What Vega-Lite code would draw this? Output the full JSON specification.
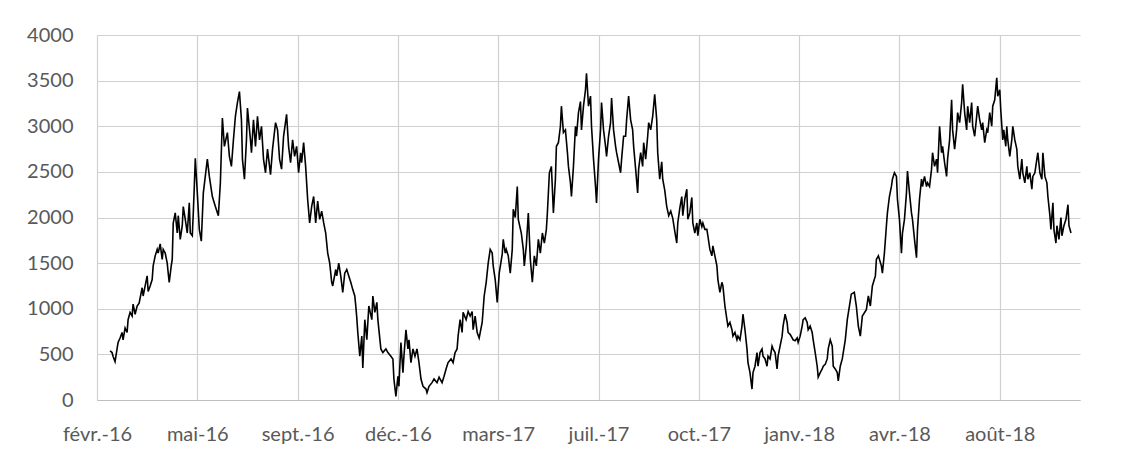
{
  "$schema": "https://vega.github.io/schema/vega-lite/v6.json",
  "width": 983,
  "height": 365,
  "autosize": {"type": "none"},
  "padding": {"left": 97, "top": 35, "right": 57, "bottom": 59},
  "background": "white",
  "data": {
    "format": {"parse": {"d": "date:'%Y-%j'"}},
    "values": [
      {"d":"2016-062","v":540},{"d":"2016-064","v":520},{"d":"2016-065","v":480},{"d":"2016-067","v":420},{"d":"2016-069","v":560},{"d":"2016-070","v":630},{"d":"2016-072","v":680},{"d":"2016-074","v":740},{"d":"2016-075","v":660},{"d":"2016-077","v":790},{"d":"2016-079","v":740},{"d":"2016-080","v":880},{"d":"2016-082","v":960},{"d":"2016-084","v":920},{"d":"2016-085","v":1050},{"d":"2016-087","v":940},{"d":"2016-089","v":1030},{"d":"2016-091","v":1060},{"d":"2016-094","v":1230},{"d":"2016-095","v":1140},{"d":"2016-097","v":1250},{"d":"2016-099","v":1360},{"d":"2016-100","v":1190},{"d":"2016-102","v":1250},{"d":"2016-104","v":1320},{"d":"2016-105","v":1470},{"d":"2016-107","v":1580},{"d":"2016-109","v":1650},{"d":"2016-110","v":1610},{"d":"2016-112","v":1710},{"d":"2016-114","v":1540},{"d":"2016-115","v":1650},{"d":"2016-117","v":1610},{"d":"2016-119","v":1500},{"d":"2016-120","v":1390},{"d":"2016-121","v":1290},{"d":"2016-123","v":1470},{"d":"2016-124","v":1540},{"d":"2016-125","v":1940},{"d":"2016-127","v":2050},{"d":"2016-129","v":1830},{"d":"2016-130","v":2020},{"d":"2016-132","v":1760},{"d":"2016-134","v":1910},{"d":"2016-135","v":2120},{"d":"2016-137","v":1980},{"d":"2016-139","v":1830},{"d":"2016-141","v":2160},{"d":"2016-142","v":1830},{"d":"2016-144","v":1800},{"d":"2016-145","v":2050},{"d":"2016-146","v":2340},{"d":"2016-147","v":2650},{"d":"2016-149","v":2270},{"d":"2016-151","v":1870},{"d":"2016-153","v":1740},{"d":"2016-155","v":2270},{"d":"2016-159","v":2640},{"d":"2016-161","v":2450},{"d":"2016-164","v":2230},{"d":"2016-167","v":2120},{"d":"2016-170","v":2020},{"d":"2016-172","v":2380},{"d":"2016-174","v":3090},{"d":"2016-176","v":2780},{"d":"2016-179","v":2930},{"d":"2016-181","v":2670},{"d":"2016-183","v":2560},{"d":"2016-185","v":2850},{"d":"2016-187","v":3110},{"d":"2016-189","v":3260},{"d":"2016-191","v":3380},{"d":"2016-193","v":3070},{"d":"2016-194","v":2640},{"d":"2016-196","v":2420},{"d":"2016-198","v":2850},{"d":"2016-199","v":3200},{"d":"2016-202","v":2850},{"d":"2016-203","v":2710},{"d":"2016-205","v":3070},{"d":"2016-207","v":2780},{"d":"2016-209","v":3110},{"d":"2016-211","v":2850},{"d":"2016-213","v":3000},{"d":"2016-215","v":2640},{"d":"2016-217","v":2490},{"d":"2016-219","v":2750},{"d":"2016-222","v":2470},{"d":"2016-224","v":2750},{"d":"2016-227","v":3040},{"d":"2016-229","v":2960},{"d":"2016-231","v":2640},{"d":"2016-233","v":2530},{"d":"2016-235","v":2890},{"d":"2016-238","v":3130},{"d":"2016-240","v":2780},{"d":"2016-242","v":2600},{"d":"2016-244","v":2850},{"d":"2016-246","v":2670},{"d":"2016-248","v":2780},{"d":"2016-250","v":2490},{"d":"2016-252","v":2710},{"d":"2016-253","v":2600},{"d":"2016-255","v":2820},{"d":"2016-257","v":2560},{"d":"2016-259","v":2200},{"d":"2016-261","v":1940},{"d":"2016-263","v":2120},{"d":"2016-265","v":2230},{"d":"2016-267","v":1940},{"d":"2016-269","v":2180},{"d":"2016-271","v":1980},{"d":"2016-273","v":2070},{"d":"2016-275","v":1940},{"d":"2016-277","v":1830},{"d":"2016-279","v":1610},{"d":"2016-281","v":1500},{"d":"2016-283","v":1290},{"d":"2016-284","v":1250},{"d":"2016-287","v":1430},{"d":"2016-288","v":1360},{"d":"2016-290","v":1500},{"d":"2016-292","v":1360},{"d":"2016-294","v":1180},{"d":"2016-296","v":1390},{"d":"2016-298","v":1430},{"d":"2016-300","v":1360},{"d":"2016-302","v":1290},{"d":"2016-304","v":1210},{"d":"2016-306","v":1140},{"d":"2016-307","v":1030},{"d":"2016-308","v":900},{"d":"2016-309","v":740},{"d":"2016-311","v":480},{"d":"2016-313","v":700},{"d":"2016-314","v":350},{"d":"2016-316","v":880},{"d":"2016-318","v":660},{"d":"2016-320","v":1030},{"d":"2016-323","v":880},{"d":"2016-324","v":1140},{"d":"2016-326","v":960},{"d":"2016-328","v":1070},{"d":"2016-329","v":880},{"d":"2016-332","v":560},{"d":"2016-334","v":520},{"d":"2016-337","v":560},{"d":"2016-339","v":520},{"d":"2016-342","v":480},{"d":"2016-344","v":450},{"d":"2016-345","v":230},{"d":"2016-347","v":40},{"d":"2016-349","v":260},{"d":"2016-350","v":150},{"d":"2016-352","v":630},{"d":"2016-354","v":300},{"d":"2016-355","v":480},{"d":"2016-357","v":770},{"d":"2016-359","v":560},{"d":"2016-360","v":660},{"d":"2016-362","v":410},{"d":"2016-364","v":560},{"d":"2016-366","v":480},
      {"d":"2017-002","v":560},{"d":"2017-004","v":410},{"d":"2017-006","v":230},{"d":"2017-008","v":150},{"d":"2017-011","v":120},{"d":"2017-012","v":80},{"d":"2017-014","v":150},{"d":"2017-017","v":190},{"d":"2017-019","v":230},{"d":"2017-022","v":190},{"d":"2017-024","v":250},{"d":"2017-027","v":190},{"d":"2017-029","v":260},{"d":"2017-031","v":340},{"d":"2017-033","v":410},{"d":"2017-036","v":450},{"d":"2017-038","v":410},{"d":"2017-040","v":520},{"d":"2017-042","v":560},{"d":"2017-043","v":700},{"d":"2017-045","v":880},{"d":"2017-047","v":740},{"d":"2017-048","v":960},{"d":"2017-051","v":880},{"d":"2017-053","v":970},{"d":"2017-055","v":920},{"d":"2017-057","v":970},{"d":"2017-058","v":770},{"d":"2017-060","v":920},{"d":"2017-062","v":740},{"d":"2017-064","v":680},{"d":"2017-067","v":850},{"d":"2017-069","v":1140},{"d":"2017-071","v":1290},{"d":"2017-073","v":1500},{"d":"2017-075","v":1650},{"d":"2017-077","v":1610},{"d":"2017-078","v":1470},{"d":"2017-080","v":1320},{"d":"2017-082","v":1070},{"d":"2017-084","v":1390},{"d":"2017-087","v":1600},{"d":"2017-088","v":1760},{"d":"2017-090","v":1610},{"d":"2017-091","v":1650},{"d":"2017-093","v":1580},{"d":"2017-095","v":1390},{"d":"2017-097","v":1650},{"d":"2017-098","v":2090},{"d":"2017-100","v":2000},{"d":"2017-102","v":2340},{"d":"2017-103","v":1980},{"d":"2017-106","v":1830},{"d":"2017-108","v":1650},{"d":"2017-109","v":1470},{"d":"2017-111","v":1690},{"d":"2017-113","v":2050},{"d":"2017-115","v":1540},{"d":"2017-117","v":1290},{"d":"2017-119","v":1580},{"d":"2017-121","v":1470},{"d":"2017-123","v":1760},{"d":"2017-125","v":1610},{"d":"2017-127","v":1830},{"d":"2017-129","v":1720},{"d":"2017-131","v":1870},{"d":"2017-132","v":2050},{"d":"2017-134","v":2490},{"d":"2017-136","v":2560},{"d":"2017-137","v":2310},{"d":"2017-138","v":2050},{"d":"2017-140","v":2420},{"d":"2017-141","v":2780},{"d":"2017-143","v":2820},{"d":"2017-145","v":3000},{"d":"2017-146","v":3220},{"d":"2017-148","v":2930},{"d":"2017-150","v":2960},{"d":"2017-152","v":2710},{"d":"2017-153","v":2560},{"d":"2017-155","v":2380},{"d":"2017-156","v":2230},{"d":"2017-158","v":2560},{"d":"2017-160","v":3000},{"d":"2017-161","v":2890},{"d":"2017-163","v":3150},{"d":"2017-165","v":3270},{"d":"2017-166","v":2960},{"d":"2017-168","v":3220},{"d":"2017-170","v":3400},{"d":"2017-171","v":3580},{"d":"2017-173","v":3220},{"d":"2017-175","v":3330},{"d":"2017-176","v":3000},{"d":"2017-178","v":2640},{"d":"2017-180","v":2340},{"d":"2017-181","v":2160},{"d":"2017-183","v":2640},{"d":"2017-185","v":2960},{"d":"2017-186","v":3260},{"d":"2017-188","v":2960},{"d":"2017-190","v":2780},{"d":"2017-191","v":2670},{"d":"2017-193","v":2890},{"d":"2017-195","v":3040},{"d":"2017-196","v":3310},{"d":"2017-198","v":2960},{"d":"2017-200","v":2780},{"d":"2017-201","v":2710},{"d":"2017-203","v":2600},{"d":"2017-205","v":2490},{"d":"2017-206","v":2640},{"d":"2017-208","v":2890},{"d":"2017-210","v":2890},{"d":"2017-211","v":3070},{"d":"2017-213","v":3330},{"d":"2017-215","v":3070},{"d":"2017-217","v":2960},{"d":"2017-218","v":2780},{"d":"2017-220","v":2530},{"d":"2017-222","v":2270},{"d":"2017-223","v":2530},{"d":"2017-225","v":2710},{"d":"2017-227","v":2560},{"d":"2017-228","v":2820},{"d":"2017-230","v":2640},{"d":"2017-232","v":2890},{"d":"2017-233","v":3040},{"d":"2017-235","v":2960},{"d":"2017-237","v":3110},{"d":"2017-239","v":3350},{"d":"2017-241","v":3070},{"d":"2017-242","v":2710},{"d":"2017-244","v":2420},{"d":"2017-246","v":2610},{"d":"2017-247","v":2420},{"d":"2017-249","v":2300},{"d":"2017-251","v":2120},{"d":"2017-253","v":2020},{"d":"2017-255","v":2070},{"d":"2017-257","v":1990},{"d":"2017-259","v":1850},{"d":"2017-261","v":1720},{"d":"2017-262","v":1940},{"d":"2017-264","v":2100},{"d":"2017-266","v":2230},{"d":"2017-267","v":2020},{"d":"2017-269","v":2200},{"d":"2017-271","v":2310},{"d":"2017-272","v":1980},{"d":"2017-274","v":2050},{"d":"2017-276","v":2220},{"d":"2017-277","v":1940},{"d":"2017-279","v":1830},{"d":"2017-281","v":1940},{"d":"2017-282","v":1800},{"d":"2017-284","v":1980},{"d":"2017-286","v":1900},{"d":"2017-287","v":1940},{"d":"2017-289","v":1870},{"d":"2017-291","v":1870},{"d":"2017-292","v":1800},{"d":"2017-294","v":1650},{"d":"2017-296","v":1580},{"d":"2017-297","v":1690},{"d":"2017-299","v":1580},{"d":"2017-301","v":1470},{"d":"2017-302","v":1320},{"d":"2017-304","v":1180},{"d":"2017-306","v":1290},{"d":"2017-307","v":1250},{"d":"2017-309","v":1030},{"d":"2017-311","v":880},{"d":"2017-312","v":810},{"d":"2017-314","v":850},{"d":"2017-316","v":770},{"d":"2017-317","v":700},{"d":"2017-319","v":740},{"d":"2017-321","v":660},{"d":"2017-322","v":700},{"d":"2017-324","v":660},{"d":"2017-326","v":810},{"d":"2017-327","v":940},{"d":"2017-329","v":770},{"d":"2017-331","v":560},{"d":"2017-332","v":410},{"d":"2017-334","v":300},{"d":"2017-336","v":120},{"d":"2017-337","v":300},{"d":"2017-339","v":370},{"d":"2017-341","v":520},{"d":"2017-342","v":370},{"d":"2017-344","v":520},{"d":"2017-346","v":560},{"d":"2017-347","v":480},{"d":"2017-349","v":450},{"d":"2017-351","v":370},{"d":"2017-352","v":480},{"d":"2017-354","v":450},{"d":"2017-356","v":590},{"d":"2017-357","v":560},{"d":"2017-359","v":520},{"d":"2017-361","v":340},{"d":"2017-362","v":480},{"d":"2017-364","v":590},
      {"d":"2018-001","v":700},{"d":"2018-002","v":810},{"d":"2018-004","v":940},{"d":"2018-006","v":850},{"d":"2018-007","v":740},{"d":"2018-009","v":720},{"d":"2018-011","v":680},{"d":"2018-012","v":660},{"d":"2018-014","v":650},{"d":"2018-016","v":680},{"d":"2018-017","v":630},{"d":"2018-019","v":700},{"d":"2018-021","v":810},{"d":"2018-022","v":880},{"d":"2018-024","v":900},{"d":"2018-026","v":850},{"d":"2018-027","v":770},{"d":"2018-029","v":810},{"d":"2018-031","v":740},{"d":"2018-032","v":660},{"d":"2018-034","v":520},{"d":"2018-036","v":370},{"d":"2018-037","v":250},{"d":"2018-039","v":300},{"d":"2018-041","v":340},{"d":"2018-042","v":370},{"d":"2018-044","v":390},{"d":"2018-046","v":450},{"d":"2018-047","v":560},{"d":"2018-049","v":660},{"d":"2018-051","v":590},{"d":"2018-052","v":370},{"d":"2018-054","v":340},{"d":"2018-056","v":300},{"d":"2018-057","v":210},{"d":"2018-059","v":370},{"d":"2018-061","v":450},{"d":"2018-064","v":660},{"d":"2018-066","v":880},{"d":"2018-070","v":1160},{"d":"2018-073","v":1180},{"d":"2018-075","v":1030},{"d":"2018-077","v":810},{"d":"2018-079","v":700},{"d":"2018-081","v":920},{"d":"2018-085","v":990},{"d":"2018-087","v":1140},{"d":"2018-089","v":1030},{"d":"2018-091","v":1250},{"d":"2018-094","v":1360},{"d":"2018-095","v":1540},{"d":"2018-097","v":1580},{"d":"2018-100","v":1470},{"d":"2018-101","v":1390},{"d":"2018-103","v":1610},{"d":"2018-105","v":1910},{"d":"2018-106","v":2050},{"d":"2018-108","v":2230},{"d":"2018-110","v":2340},{"d":"2018-111","v":2420},{"d":"2018-113","v":2490},{"d":"2018-115","v":2450},{"d":"2018-116","v":2200},{"d":"2018-118","v":1980},{"d":"2018-120","v":1610},{"d":"2018-121","v":1830},{"d":"2018-123","v":1980},{"d":"2018-125","v":2270},{"d":"2018-126","v":2510},{"d":"2018-128","v":2270},{"d":"2018-130","v":2050},{"d":"2018-131","v":1980},{"d":"2018-133","v":1760},{"d":"2018-135","v":1560},{"d":"2018-136","v":1870},{"d":"2018-138","v":2200},{"d":"2018-140","v":2420},{"d":"2018-141","v":2340},{"d":"2018-143","v":2450},{"d":"2018-145","v":2340},{"d":"2018-146","v":2380},{"d":"2018-148","v":2340},{"d":"2018-150","v":2530},{"d":"2018-151","v":2710},{"d":"2018-153","v":2560},{"d":"2018-155","v":2640},{"d":"2018-156","v":2490},{"d":"2018-158","v":3000},{"d":"2018-160","v":2710},{"d":"2018-161","v":2780},{"d":"2018-163","v":2600},{"d":"2018-165","v":2450},{"d":"2018-166","v":2640},{"d":"2018-168","v":2850},{"d":"2018-170","v":3290},{"d":"2018-171","v":2960},{"d":"2018-173","v":2750},{"d":"2018-175","v":2960},{"d":"2018-176","v":3150},{"d":"2018-178","v":3040},{"d":"2018-180","v":3260},{"d":"2018-181","v":3460},{"d":"2018-183","v":3150},{"d":"2018-185","v":2960},{"d":"2018-186","v":3220},{"d":"2018-188","v":3040},{"d":"2018-190","v":3260},{"d":"2018-191","v":3000},{"d":"2018-193","v":2890},{"d":"2018-195","v":3110},{"d":"2018-196","v":3220},{"d":"2018-198","v":3070},{"d":"2018-200","v":2960},{"d":"2018-201","v":3040},{"d":"2018-203","v":2820},{"d":"2018-205","v":2960},{"d":"2018-206","v":2930},{"d":"2018-208","v":3150},{"d":"2018-210","v":3000},{"d":"2018-211","v":3220},{"d":"2018-213","v":3290},{"d":"2018-215","v":3530},{"d":"2018-216","v":3330},{"d":"2018-218","v":3400},{"d":"2018-219","v":3180},{"d":"2018-221","v":2850},{"d":"2018-222","v":2960},{"d":"2018-224","v":2780},{"d":"2018-225","v":3000},{"d":"2018-226","v":2850},{"d":"2018-228","v":2670},{"d":"2018-230","v":2850},{"d":"2018-231","v":3000},{"d":"2018-233","v":2850},{"d":"2018-235","v":2750},{"d":"2018-236","v":2560},{"d":"2018-238","v":2420},{"d":"2018-240","v":2640},{"d":"2018-241","v":2490},{"d":"2018-243","v":2380},{"d":"2018-245","v":2560},{"d":"2018-246","v":2420},{"d":"2018-248","v":2490},{"d":"2018-250","v":2310},{"d":"2018-251","v":2450},{"d":"2018-253","v":2490},{"d":"2018-255","v":2640},{"d":"2018-256","v":2710},{"d":"2018-258","v":2490},{"d":"2018-260","v":2420},{"d":"2018-261","v":2710},{"d":"2018-263","v":2450},{"d":"2018-265","v":2380},{"d":"2018-266","v":2230},{"d":"2018-268","v":2020},{"d":"2018-269","v":1870},{"d":"2018-271","v":2160},{"d":"2018-272","v":1870},{"d":"2018-274","v":1720},{"d":"2018-275","v":1910},{"d":"2018-277","v":1760},{"d":"2018-279","v":2000},{"d":"2018-280","v":1800},{"d":"2018-282","v":1910},{"d":"2018-284","v":1980},{"d":"2018-286","v":2140},{"d":"2018-287","v":1910},{"d":"2018-289","v":1830}
    ]
  },
  "mark": {"type": "line", "color": "#000000", "strokeWidth": 1.6, "strokeJoin": "miter"},
  "encoding": {
    "x": {
      "field": "d",
      "type": "temporal",
      "scale": {"domain": [{"year": 2016, "month": 2, "date": 18}, {"year": 2018, "month": 10, "date": 25}]},
      "axis": {
        "title": null,
        "values": [
          {"year": 2016, "month": 2, "date": 18},
          {"year": 2016, "month": 5, "date": 28},
          {"year": 2016, "month": 9, "date": 5},
          {"year": 2016, "month": 12, "date": 14},
          {"year": 2017, "month": 3, "date": 24},
          {"year": 2017, "month": 7, "date": 2},
          {"year": 2017, "month": 10, "date": 10},
          {"year": 2018, "month": 1, "date": 18},
          {"year": 2018, "month": 4, "date": 28},
          {"year": 2018, "month": 8, "date": 6}
        ],
        "labelExpr": "['janv.','févr.','mars','avr.','mai','juin','juil.','août','sept.','oct.','nov.','déc.'][month(datum.value)] + '-' + timeFormat(datum.value, '%y')",
        "grid": true,
        "gridColor": "#d0d0d0",
        "gridWidth": 1.2,
        "ticks": false,
        "tickSize": 0,
        "domain": true,
        "domainColor": "#bfbfbf",
        "domainWidth": 1.2,
        "labelFont": "Lato",
        "labelFontSize": 20,
        "labelColor": "#595959",
        "labelBaseline": "alphabetic",
        "labelPadding": 40,
        "labelFlush": false,
        "labelOverlap": false
      }
    },
    "y": {
      "field": "v",
      "type": "quantitative",
      "scale": {"domain": [0, 4000], "nice": false},
      "axis": {
        "title": null,
        "values": [0, 500, 1000, 1500, 2000, 2500, 3000, 3500, 4000],
        "format": "d",
        "grid": true,
        "gridColor": "#d0d0d0",
        "gridWidth": 1.2,
        "ticks": false,
        "tickSize": 0,
        "domain": false,
        "labelFont": "Lato",
        "labelFontSize": 20,
        "labelColor": "#595959",
        "labelPadding": 24,
        "labelBaseline": "middle"
      }
    }
  },
  "config": {"view": {"stroke": null}}
}
